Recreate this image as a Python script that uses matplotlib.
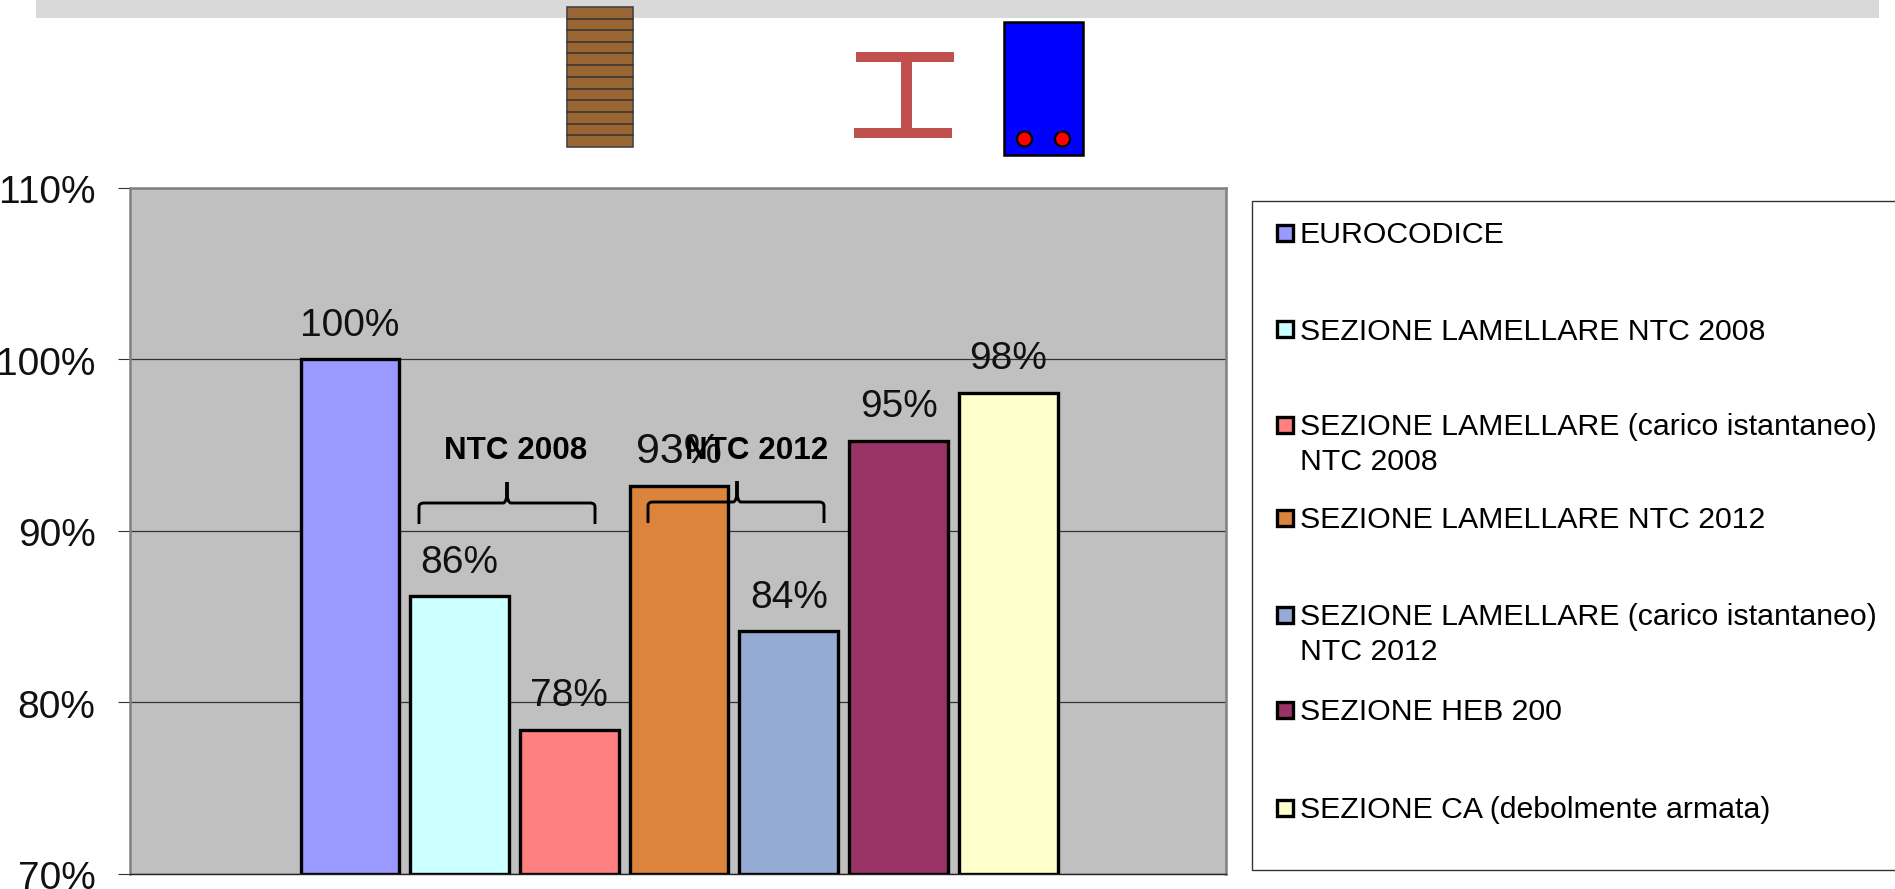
import matplotlib
matplotlib.use('Agg')
import matplotlib.pyplot as plt
from matplotlib.patches import Rectangle, Circle, PathPatch
from matplotlib.path import Path
from matplotlib.transforms import ScaledTranslation

plt.rcParams['font.family'] = ['Liberation Sans', 'DejaVu Sans']

# valori
series = ['EUROCODICE',
          'SEZIONE LAMELLARE NTC 2008',
          'SEZIONE LAMELLARE (carico istantaneo)\nNTC 2008',
          'SEZIONE LAMELLARE NTC 2012',
          'SEZIONE LAMELLARE (carico istantaneo)\nNTC 2012',
          'SEZIONE HEB 200',
          'SEZIONE CA (debolmente armata)']
values = [100, 86.2, 78.4, 92.6, 84.15, 95.25, 98.05]
labels = ['100%', '86%', '78%', '93%', '84%', '95%', '98%']
colors = ['#9999ff', '#ccffff', '#ff8080', '#dc843c', '#95abd3', '#993366', '#ffffcc']
yticks = [70, 80, 90, 100, 110]

W, H = 1895, 889
fig = plt.figure(figsize=(W / 100, H / 100), dpi=100)

# grafico a barre
ax = fig.add_axes([130 / W, 1 - 874 / H, (1226 - 130) / W, (874 - 188) / H])
ax.set_facecolor('#c0c0c0')
ax.set_xlim(-2.005, 7.985)
ax.set_ylim(70, 110)
ax.set_yticks(yticks)
ax.set_yticklabels([f'{t}%' for t in yticks], fontsize=28, color='#111111')
ax.set_xticks([])
ax.tick_params(axis='y', length=8.6, width=0.8, color='#333333', pad=16.3)
shift = ScaledTranslation(0, -1.5 / 100, fig.dpi_scale_trans)
for lab in ax.get_yticklabels():
    lab.set_transform(lab.get_transform() + shift)
ax.grid(axis='y', color='#333333', lw=0.9)
ax.set_axisbelow(True)
for side in ['top', 'left', 'right']:
    ax.spines[side].set_color('#808080')
    ax.spines[side].set_linewidth(1.8)
ax.spines['bottom'].set_color('#222222')
ax.spines['bottom'].set_linewidth(1.0)

for i, v in enumerate(values):
    ax.bar(i, v - 70, bottom=70, width=0.9, color=colors[i], edgecolor='black', linewidth=2.4)
    # l'etichetta 93% e' piu' grande delle altre nell'originale
    size = 31 if labels[i] == '93%' else 28
    ax.annotate(labels[i], (i, v), xytext=(0, 17), textcoords='offset points',
                ha='center', va='baseline', fontsize=size, color='#111111')

# livello in pixel per sezioni, parentesi e legenda
ov = fig.add_axes([0, 0, 1, 1], facecolor='none')
ov.set_xlim(0, W)
ov.set_ylim(H, 0)
ov.axis('off')

# banda grigia in alto
ov.add_patch(Rectangle((36, 0), 1843, 18, color='#d9d9d9', lw=0))

# sezione lamellare
ov.add_patch(Rectangle((566.5, 7), 66, 140, fc='#996633', ec='#444444', lw=1.2))
for y in [19, 30, 42, 53, 65, 77, 89, 100, 112, 124, 135]:
    ov.plot([566.5, 632.5], [y, y], color='#333333', lw=1.1)

# profilo HEB
ov.add_patch(Rectangle((856, 52), 98, 10, color='#c0504d', lw=0))
ov.add_patch(Rectangle((901, 62), 11, 66, color='#c0504d', lw=0))
ov.add_patch(Rectangle((854, 128), 98, 10, color='#c0504d', lw=0))

# sezione in CA
ov.add_patch(Rectangle((1004, 22), 79, 133, fc='#0000ff', ec='black', lw=1.8))
for cx in [1024.5, 1062.5]:
    ov.add_patch(Circle((cx, 139), 7.5, fc='#ff0000', ec='black', lw=1.6))


def brace(x0, x1, xm, ybar, ytop, ybot):
    verts = [(x0, ybot), (x0, ybar + 4), (x0, ybar), (x0 + 5, ybar),
             (xm - 4, ybar), (xm, ybar), (xm, ytop + 8), (xm, ytop),
             (xm, ytop + 8), (xm, ybar), (xm + 4, ybar),
             (x1 - 5, ybar), (x1, ybar), (x1, ybar + 4), (x1, ybot)]
    codes = [Path.MOVETO, Path.LINETO, Path.CURVE3, Path.CURVE3,
             Path.LINETO, Path.CURVE3, Path.CURVE3, Path.LINETO,
             Path.LINETO, Path.CURVE3, Path.CURVE3,
             Path.LINETO, Path.CURVE3, Path.CURVE3, Path.LINETO]
    ov.add_patch(PathPatch(Path(verts, codes), fc='none', ec='black', lw=2.1))


brace(419, 595, 507, 503, 482, 524)
brace(648, 824, 737, 502, 481, 523)
ov.text(516, 459, 'NTC 2008', ha='center', va='baseline', fontsize=22.6, fontweight='bold', color='black')
ov.text(757, 459, 'NTC 2012', ha='center', va='baseline', fontsize=22.6, fontweight='bold', color='black')

# legenda
ov.add_patch(Rectangle((1252, 201), 660, 669, fc='white', ec='#333333', lw=1.0))
leg_y = [233, 329.5, 425, 518.5, 615, 710, 808]
for name, col, y in zip(series, colors, leg_y):
    ov.add_patch(Rectangle((1277, y - 8.5), 16, 16, fc=col, ec='black', lw=2.4))
    if '\n' in name:
        ov.text(1300, y - 12, name, ha='left', va='top', fontsize=21.8, color='black', linespacing=1.3)
    else:
        ov.text(1300, y + 10, name, ha='left', va='baseline', fontsize=21.8, color='black')

fig.savefig('out.png', dpi=100)
